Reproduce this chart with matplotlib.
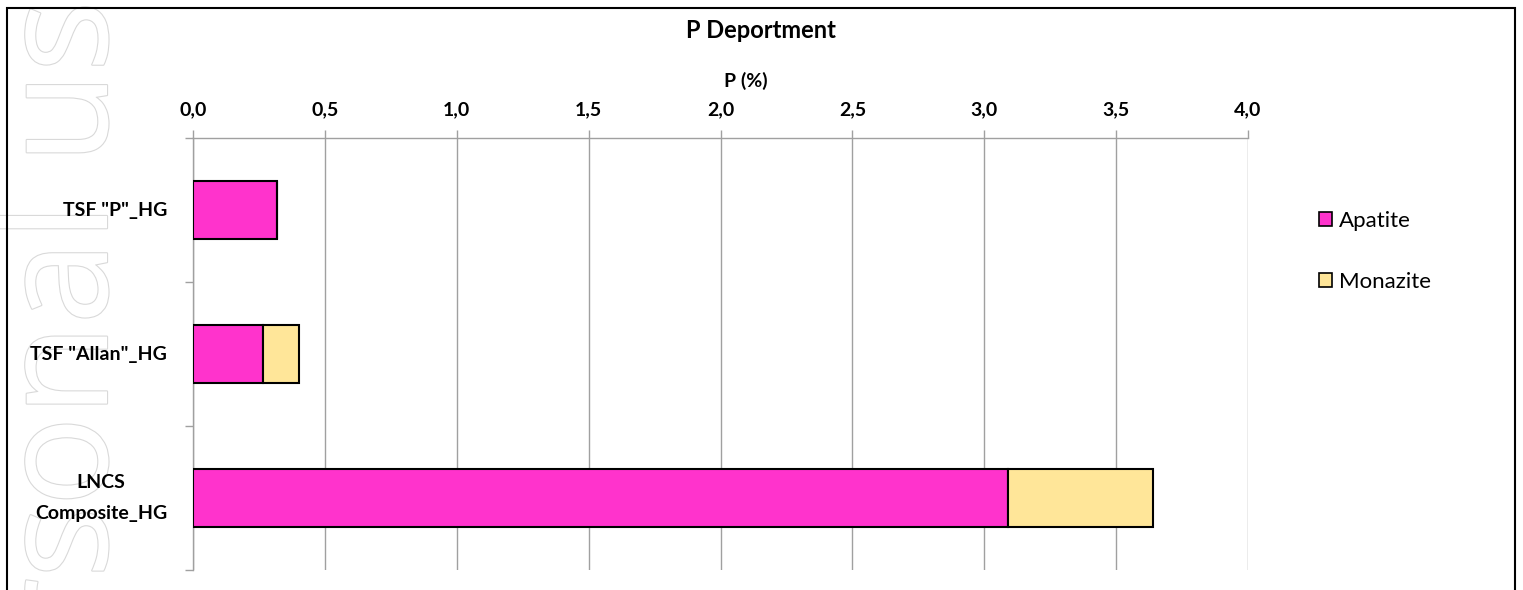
import matplotlib
matplotlib.use("Agg")
import matplotlib.pyplot as plt
from matplotlib.patches import Patch, Rectangle
import matplotlib.patheffects as pe
from matplotlib.ticker import FuncFormatter, FixedLocator

categories = ['TSF "P"_HG', 'TSF "Allan"_HG', 'LNCS\nComposite_HG']
apatite = [0.32, 0.265, 3.09]
monazite = [0.0, 0.135, 0.55]
series_names = ['Apatite', 'Monazite']
colors = ['#FF33CC', '#FFE699']
xticks = [0.0, 0.5, 1.0, 1.5, 2.0, 2.5, 3.0, 3.5, 4.0]

plt.rcParams['font.family'] = ['Lato', 'DejaVu Sans']
plt.rcParams['font.weight'] = 'bold'

W, H = 1523, 590
fig = plt.figure(figsize=(W / 100, H / 100), dpi=100)
ax = fig.add_axes([193 / W, 1 - 570 / H, (1248 - 193) / W, (570 - 138) / H])
ax.set_zorder(2)
ax.patch.set_alpha(0)

# watermark (outlined, reading bottom to top)
fig.text(107 / W, 1 + 84 / H, 'Personal use', rotation=90, rotation_mode='anchor',
         fontsize=108, family='Open Sans', fontweight='normal', color='white',
         ha='right', va='baseline', zorder=-5,
         path_effects=[pe.withStroke(linewidth=1.6, foreground='#d9d9d9')])

ypos = list(range(len(categories)))
ax.barh(ypos, apatite, height=0.4, color=colors[0], edgecolor='black', linewidth=1.5, zorder=3)
ax.barh(ypos, monazite, left=apatite, height=0.4, color=colors[1], edgecolor='black', linewidth=1.5, zorder=3)

ax.set_xlim(0, 4.0)
ax.set_ylim(len(categories) - 0.5, -0.5)
ax.xaxis.set_major_locator(FixedLocator(xticks))
ax.xaxis.set_major_formatter(FuncFormatter(lambda v, p: f'{v:.1f}'.replace('.', ',')))
ax.xaxis.tick_top()
ax.tick_params(axis='x', direction='out', length=6, color='#a0a0a0', width=1,
               labelsize=14, pad=8.5)

ax.set_yticks(ypos)
ax.set_yticklabels(categories, fontsize=14)
for lab in ax.get_yticklabels():
    lab.set_multialignment('center')
    lab.set_linespacing(2.0)
    lab.set_verticalalignment('center')
ax.yaxis.set_minor_locator(FixedLocator([-0.5, 0.5, 1.5, 2.5]))
ax.tick_params(axis='y', which='major', length=0, pad=18.5)
ax.tick_params(axis='y', which='minor', direction='out', length=6, color='#a0a0a0', width=1)

ax.grid(axis='x', color='#a0a0a0', linewidth=1, zorder=0)
ax.set_axisbelow(True)
for s in ['right', 'bottom']:
    ax.spines[s].set_visible(False)
for s in ['left', 'top']:
    ax.spines[s].set_color('#a0a0a0')
    ax.spines[s].set_linewidth(1)

fig.text(761 / W, 1 - 31 / H, 'P Deportment', fontsize=17, ha='center', va='center')
fig.text(746 / W, 1 - 81 / H, 'P (%)', fontsize=14, ha='center', va='center')

handles = [Patch(facecolor=c, edgecolor='black', linewidth=1.2) for c in colors]
fig.legend(handles, series_names, loc='upper left',
           bbox_to_anchor=(1319 / W, 1 - 211 / H), frameon=False,
           prop={'size': 16, 'weight': 'normal'}, handlelength=0.6, handleheight=0.6,
           handletextpad=0.3, labelspacing=1.84, borderaxespad=0, borderpad=0)

fig.patches.append(Rectangle((7 / W, -0.05), (1515 - 7) / W, 1.05 - 8 / H,
                             transform=fig.transFigure, fill=False,
                             edgecolor='black', linewidth=1.5, zorder=10))

fig.savefig('out.png', dpi=100)
